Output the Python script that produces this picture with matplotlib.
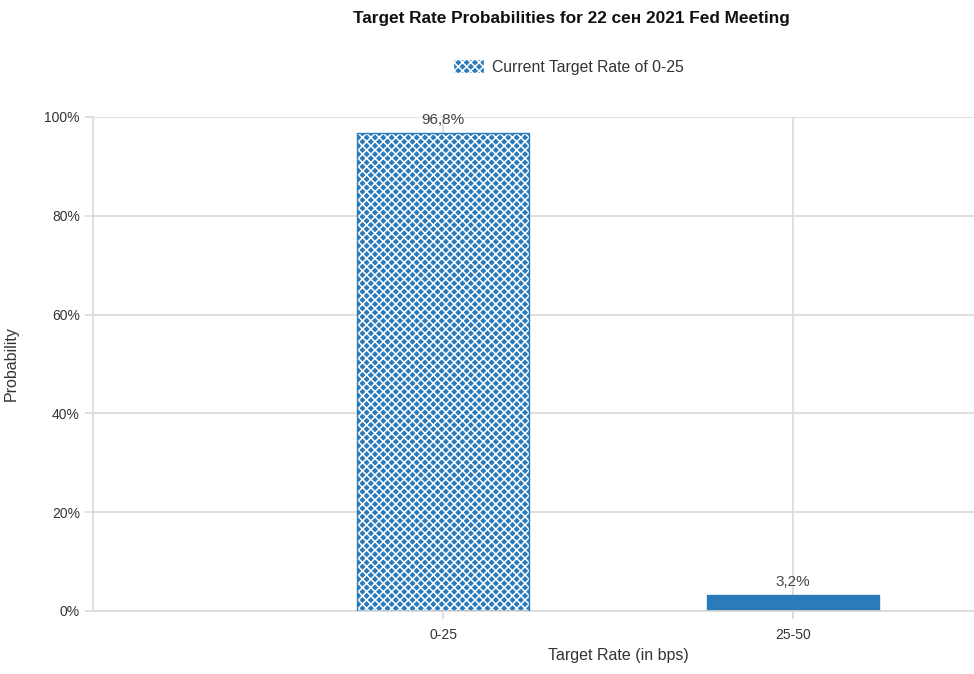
import matplotlib
matplotlib.use('Agg')
import matplotlib.pyplot as plt
import matplotlib.patches as patches
from matplotlib.ticker import FuncFormatter

# Target rate buckets and their probabilities (%)
rate_buckets = ["0-25", "25-50"]
probabilities = [96.8, 3.2]
current_bucket = "0-25"

BLUE = "#2b7bba"
GRID = "#d9d9d9"
TEXT = "#333333"

plt.rcParams['font.family'] = ['Liberation Sans', 'DejaVu Sans']
plt.rcParams['hatch.linewidth'] = 1.1

fig = plt.figure(figsize=(9.74, 6.74), dpi=100)
ax = fig.add_axes([93 / 974, 63 / 674, (975 - 93) / 974, (611 - 117) / 674])

xs = list(range(len(rate_buckets)))
for x, bucket, p in zip(xs, rate_buckets, probabilities):
    if bucket == current_bucket:
        # hatched fill for the current target rate, then a plain outline on top
        ax.bar(x, p, width=0.49, color=BLUE, edgecolor="white", linewidth=0,
               hatch="xxxx", zorder=2)
        ax.bar(x, p, width=0.49, fill=False, edgecolor=BLUE, linewidth=1.0, zorder=3)
    else:
        ax.bar(x, p, width=0.49, color=BLUE, edgecolor=BLUE, linewidth=1.0, zorder=2)
    ax.text(x, p + 1.2, f"{p:.1f}%".replace(".", ","), ha="center", va="bottom",
            fontsize=11, color="#444444", zorder=4)

ax.set_xlim(-1, 1.52)
ax.set_ylim(0, 100)
ax.set_xticks(xs)
ax.set_xticklabels(rate_buckets)
ax.set_yticks([0, 20, 40, 60, 80, 100])
ax.yaxis.set_major_formatter(FuncFormatter(lambda v, _: f"{v:.0f}%"))

ax.grid(True, color=GRID, linewidth=1.2, zorder=0)
ax.set_axisbelow(True)
for side in ["top", "right"]:
    ax.spines[side].set_visible(False)
for side in ["left", "bottom"]:
    ax.spines[side].set_color(GRID)
    ax.spines[side].set_linewidth(1.2)

ax.tick_params(axis="both", colors=GRID, labelcolor=TEXT, labelsize=10,
               length=6, width=1.2)
ax.tick_params(axis="x", pad=6)

ax.set_xlabel("Target Rate (in bps)", fontsize=11.5, color=TEXT)
ax.xaxis.set_label_coords(0.596, -0.075)
ax.set_ylabel("Probability", fontsize=11.5, color=TEXT)
ax.yaxis.set_label_coords(-0.084, 0.5)

fig.text(571 / 974, 1 - 18 / 674, "Target Rate Probabilities for 22 сен 2021 Fed Meeting",
         ha="center", va="center", fontsize=12.4, fontweight="bold", color="#111111")

legend_handle = patches.Patch(facecolor=BLUE, edgecolor="white", hatch="xxxx",
                              label="Current Target Rate of 0-25")
fig.legend(handles=[legend_handle], loc="center", bbox_to_anchor=(568 / 974, 1 - 67 / 674),
           frameon=False, fontsize=11.3, handlelength=2.0, handleheight=1.0,
           handletextpad=0.5, labelcolor=TEXT)

plt.savefig("out.png", dpi=100)
plt.close()
